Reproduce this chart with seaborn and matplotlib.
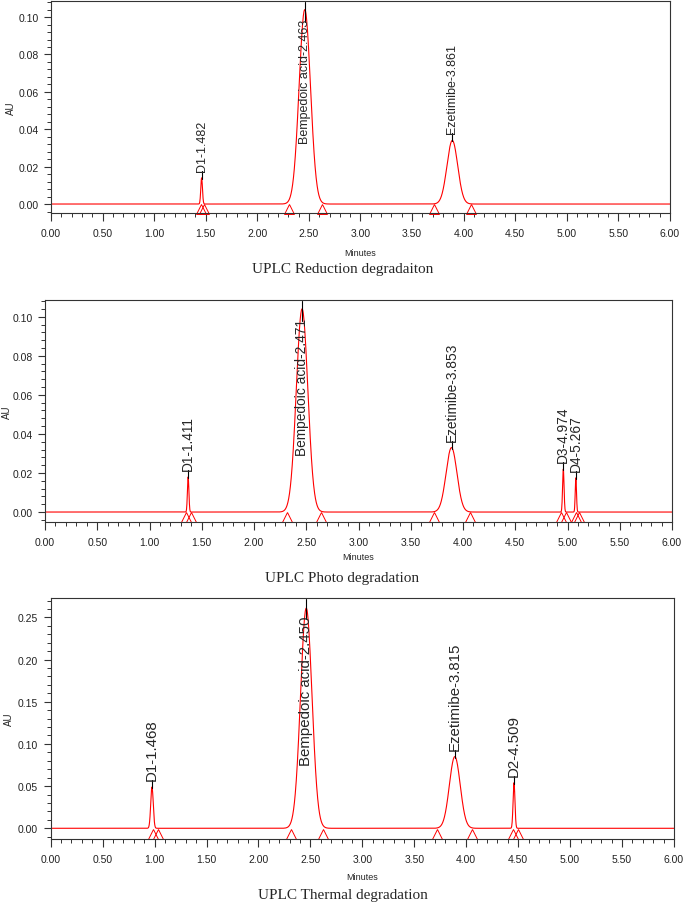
import numpy as np
import matplotlib
matplotlib.use("Agg")
import matplotlib.pyplot as plt
from matplotlib.ticker import MultipleLocator, FormatStrFormatter
import seaborn as sns

# peak tables (time in min, height in AU)
red_rt = [1.46, 2.46, 3.89]
red_height = [0.014, 0.104, 0.034]
red_sigma = [0.008, 0.055, 0.052]
red_labels = ["D1-1.482", "Bempedoic acid-2.463", "Ezetimibe-3.861"]
red_marks = [1.45, 1.48, 2.31, 2.63, 3.71, 4.07]

photo_rt = [1.37, 2.46, 3.89, 4.96, 5.08]
photo_height = [0.018, 0.104, 0.033, 0.022, 0.0175]
photo_sigma = [0.007, 0.055, 0.052, 0.007, 0.006]
photo_labels = ["D1-1.411", "Bempedoic acid-2.471", "Ezetimibe-3.853", "D3-4.974", "D4-5.267"]
photo_marks = [1.35, 1.40, 2.32, 2.64, 3.72, 4.07, 4.94, 4.99, 5.08, 5.11]

therm_rt = [0.975, 2.46, 3.89, 4.46]
therm_height = [0.049, 0.261, 0.085, 0.054]
therm_sigma = [0.012, 0.055, 0.052, 0.009]
therm_labels = ["D1-1.468", "Bempedoic acid-2.450", "Ezetimibe-3.815", "D2-4.509"]
therm_marks = [0.985, 1.03, 2.31, 2.62, 3.72, 4.06, 4.45, 4.50]

captions = ["UPLC Reduction degradaiton", "UPLC Photo degradation", "UPLC Thermal degradation"]

sns.set_theme(style="ticks")
plt.rcParams['font.family'] = ['Liberation Sans', 'DejaVu Sans']

W, H, DPI = 685, 904, 100
fig = plt.figure(figsize=(W / DPI, H / DPI), dpi=DPI)

edge = '#333333'


def draw_panel(rect, rt, height, sigma, labels, marks, ylim, ymajor, yminor,
               lab_size, au_x, min_y, cap_y, caption):
    left, top, right, bottom = rect
    ax = fig.add_axes([left / W, 1 - bottom / H, (right - left) / W, (bottom - top) / H])
    t = np.linspace(0, 6, 3001)
    sig = np.zeros_like(t)
    for r, h, s in zip(rt, height, sigma):
        sig += h * np.exp(-0.5 * ((t - r) / s) ** 2)
    sns.lineplot(x=t, y=sig, ax=ax, color='red', lw=0.8)
    ax.plot(marks, [ylim[0] * 0.5] * len(marks), ls='none', marker='^', ms=6.5,
            mfc='none', mec='red', mew=0.7, clip_on=False)

    ax.set_xlim(0, 6)
    ax.set_ylim(*ylim)
    px = (bottom - top) / (ylim[1] - ylim[0])  # pixels per AU
    for r, h, lab in zip(rt, height, labels):
        if h > 0.5 * ylim[1]:
            ytxt = ylim[1] - 18 / px
            ax.text(r, ytxt, lab, rotation=90, ha='center', va='top', fontsize=lab_size)
            ax.plot([r, r], [ytxt - 3 / px, ylim[1] - 1 / px], color='black', lw=0.8)
        else:
            ytxt = h + 7 / px
            ax.text(r, ytxt, lab, rotation=90, ha='center', va='bottom', fontsize=lab_size)
            ax.plot([r, r], [h - 1 / px, ytxt], color='black', lw=0.8)

    ax.xaxis.set_major_locator(MultipleLocator(0.5))
    ax.xaxis.set_minor_locator(MultipleLocator(0.1))
    ax.xaxis.set_major_formatter(FormatStrFormatter('%.2f'))
    ax.yaxis.set_major_locator(MultipleLocator(ymajor))
    ax.yaxis.set_minor_locator(MultipleLocator(yminor))
    ax.yaxis.set_major_formatter(FormatStrFormatter('%.2f'))
    ax.tick_params(axis='both', which='major', length=5, width=0.8, color=edge,
                   labelsize=7.5, labelcolor='#222222')
    ax.tick_params(axis='both', which='minor', length=3, width=0.7, color=edge)
    ax.tick_params(axis='x', which='major', length=6, pad=5)
    ax.tick_params(axis='y', pad=4)
    for sp in ax.spines.values():
        sp.set_visible(True)
        sp.set_color(edge)
        sp.set_linewidth(0.8)

    ax.set_ylabel("AU", fontsize=7)
    ax.yaxis.set_label_coords((au_x - left) / (right - left), 0.5)
    ax.yaxis.label.set_va('center')
    ax.set_xlabel("Minutes", fontsize=6.5)
    ax.xaxis.set_label_coords(0.5, (bottom - min_y) / (bottom - top))
    ax.xaxis.label.set_va('center')
    fig.text(0.5, 1 - cap_y / H, caption, ha='center', va='center', fontsize=11,
             family=['Liberation Serif', 'DejaVu Serif'])
    return ax


draw_panel((51, 2, 670, 214), red_rt, red_height, red_sigma, red_labels, red_marks,
           (-0.0048, 0.1086), 0.02, 0.004, 9.0, 11, 253, 270, captions[0])
draw_panel((45, 300.7, 672, 523), photo_rt, photo_height, photo_sigma, photo_labels, photo_marks,
           (-0.0051, 0.1087), 0.02, 0.004, 9.9, 7, 558, 579, captions[1])
draw_panel((50.7, 599, 674, 840), therm_rt, therm_height, therm_sigma, therm_labels, therm_marks,
           (-0.0127, 0.273), 0.05, 0.01, 10.8, 9, 878, 896, captions[2])

fig.savefig("out.png", dpi=DPI)
